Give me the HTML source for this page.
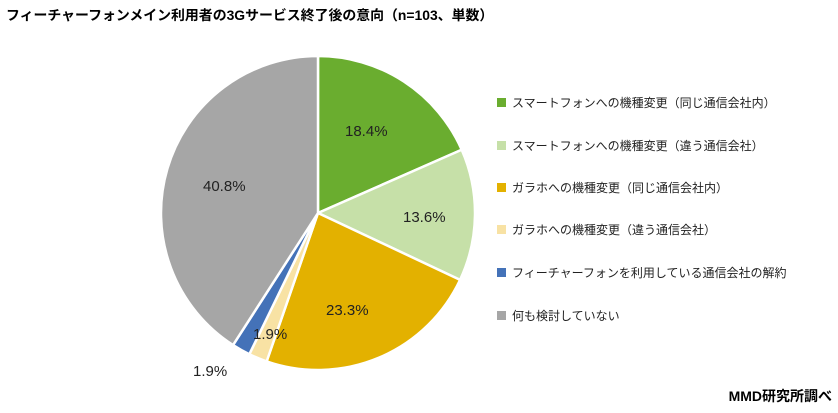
<!DOCTYPE html>
<html><head><meta charset="utf-8"><style>
body{margin:0;width:838px;height:413px;background:#fff;overflow:hidden;font-family:"Liberation Sans","Noto Sans CJK JP",sans-serif;}
</style></head><body>
<svg id="s" width="838" height="413" xmlns="http://www.w3.org/2000/svg" style="position:absolute;left:0;top:0">
<text x="6" y="20" font-size="13.9" font-weight="bold" fill="#000" font-family="Liberation Sans, Noto Sans CJK JP, sans-serif">フィーチャーフォンメイン利用者の3Gサービス終了後の意向（n=103、単数）</text>
<g id="pie"></g>
<g font-size="15" fill="#222" font-family="Liberation Sans, Noto Sans CJK JP, sans-serif">
<text x="345" y="136">18.4%</text>
<text x="403" y="222">13.6%</text>
<text x="326" y="315">23.3%</text>
<text x="253" y="339">1.9%</text>
<text x="193" y="376">1.9%</text>
<text x="203" y="191">40.8%</text>
</g>
<g font-size="12" fill="#222" font-family="Liberation Sans, Noto Sans CJK JP, sans-serif">
<rect x="497" y="98" width="9" height="9" fill="#6aad2f"/><text x="512" y="107">スマートフォンへの機種変更（同じ通信会社内）</text>
<rect x="497" y="141" width="9" height="9" fill="#c6e0a8"/><text x="512" y="150">スマートフォンへの機種変更（違う通信会社）</text>
<rect x="497" y="183" width="9" height="9" fill="#e3b100"/><text x="512" y="192">ガラホへの機種変更（同じ通信会社内）</text>
<rect x="497" y="225" width="9" height="9" fill="#f8e2a4"/><text x="512" y="234">ガラホへの機種変更（違う通信会社）</text>
<rect x="497" y="268" width="9" height="9" fill="#4472b8"/><text x="512" y="277">フィーチャーフォンを利用している通信会社の解約</text>
<rect x="497" y="311" width="9" height="9" fill="#a6a6a6"/><text x="512" y="320">何も検討していない</text>
</g>
<text x="832" y="401" text-anchor="end" font-size="14" font-weight="bold" fill="#000" font-family="Liberation Sans, Noto Sans CJK JP, sans-serif">MMD研究所調べ</text>
</svg>
<script>
var cx=318,cy=213,r=157;
var v=[18.4,13.6,23.3,1.9,1.9,40.9];
var c=["#6aad2f","#c6e0a8","#e3b100","#f8e2a4","#4472b8","#a6a6a6"];
var cum=0,h="";
function pt(p){var a=p/100*2*Math.PI;return [cx+r*Math.sin(a),cy-r*Math.cos(a)];}
for(var i=0;i<v.length;i++){var a=pt(cum),b=pt(cum+v[i]);var large=v[i]>50?1:0;
h+='<path d="M'+cx+','+cy+' L'+a[0].toFixed(2)+','+a[1].toFixed(2)+' A'+r+','+r+' 0 '+large+' 1 '+b[0].toFixed(2)+','+b[1].toFixed(2)+' Z" fill="'+c[i]+'" stroke="#fff" stroke-width="2.5" stroke-linejoin="round"/>';cum+=v[i];}
document.getElementById("pie").innerHTML=h;
</script>
</body></html>
